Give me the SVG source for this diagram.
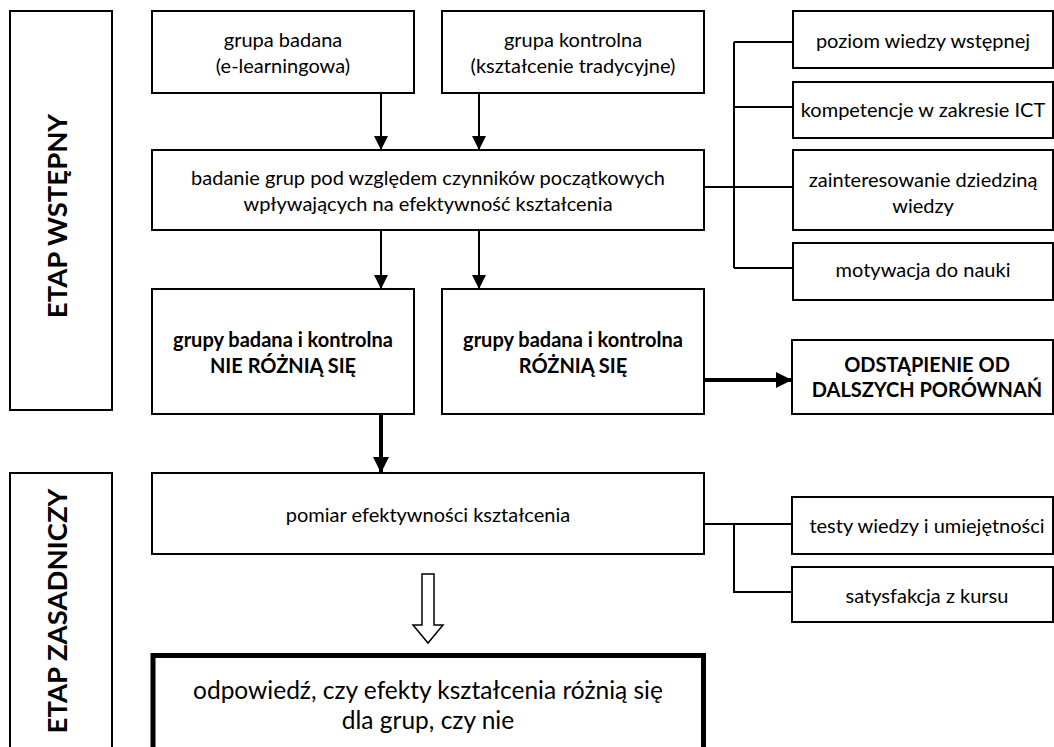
<svg xmlns="http://www.w3.org/2000/svg" width="1054" height="747" viewBox="0 0 1054 747">
<defs>
<style>
.box{fill:#fff;stroke:#000;stroke-width:2}
.t{font-family:Lato,"Open Sans","DejaVu Sans",sans-serif;font-size:20px;fill:#000;text-anchor:middle}
.b{font-weight:bold}
.big{font-size:24.5px}
.stage{font-family:Lato,"Open Sans","DejaVu Sans",sans-serif;font-size:27.5px;font-weight:bold;fill:#000;text-anchor:middle}
.ln{fill:none;stroke:#000;stroke-width:2}
.thick{fill:none;stroke:#000;stroke-width:4}
</style>
<marker id="ah" markerUnits="userSpaceOnUse" markerWidth="14" markerHeight="14" refX="14" refY="7" orient="auto"><path d="M0,0 L14,7 L0,14 z" fill="#000"/></marker>
<marker id="ahb" markerUnits="userSpaceOnUse" markerWidth="16" markerHeight="16" refX="16" refY="8" orient="auto"><path d="M0,0 L16,8 L0,16 z" fill="#000"/></marker>
</defs>
<rect width="1054" height="747" fill="#fff"/>
<g id="stage1"><rect class="box" x="10" y="11" width="102" height="399"/><text class="stage" transform="translate(67,216) rotate(-90)">ETAP WSTĘPNY</text></g>
<g id="stage2"><rect class="box" x="10" y="473" width="102" height="300"/><text class="stage" transform="translate(67,611) rotate(-90)">ETAP ZASADNICZY</text></g>
<g id="connectors">
<line class="ln" x1="381" y1="93" x2="381" y2="150" marker-end="url(#ah)"/>
<line class="ln" x1="479" y1="93" x2="479" y2="150" marker-end="url(#ah)"/>
<line class="ln" x1="381" y1="230" x2="381" y2="289" marker-end="url(#ah)"/>
<line class="ln" x1="479" y1="230" x2="479" y2="289" marker-end="url(#ah)"/>
<line class="thick" x1="381" y1="414" x2="381" y2="473" marker-end="url(#ahb)"/>
<line class="thick" x1="704" y1="380" x2="792" y2="380" marker-end="url(#ahb)"/>
<path class="ln" d="M704,187 H793 M734,42 V268 M734,42 H793 M734,107 H793 M734,268 H793"/>
<path class="ln" d="M704,524 H792 M734,524 V592 H792"/>
<polygon points="422,574 434,574 434,625 443,625 428,643 413,625 422,625" fill="#fff" stroke="#000" stroke-width="1.5"/>
</g>
<g id="grupa-badana"><rect class="box" x="152" y="11" width="262" height="82"/><text class="t" x="283" y="47">grupa badana</text><text class="t" x="283" y="73">(e-learningowa)</text></g>
<g id="grupa-kontrolna"><rect class="box" x="442" y="11" width="262" height="82"/><text class="t" x="573" y="47">grupa kontrolna</text><text class="t" x="573" y="73">(kształcenie tradycyjne)</text></g>
<g id="badanie"><rect class="box" x="152" y="150" width="552" height="80"/><text class="t" x="428" y="185">badanie grup pod względem czynników początkowych</text><text class="t" x="428" y="211">wpływających na efektywność kształcenia</text></g>
<g id="poziom"><rect class="box" x="793" y="11" width="260" height="57"/><text class="t" x="923" y="48">poziom wiedzy wstępnej</text></g>
<g id="kompetencje"><rect class="box" x="793" y="82" width="260" height="56"/><text class="t" x="923" y="117">kompetencje w zakresie ICT</text></g>
<g id="zainteresowanie"><rect class="box" x="793" y="150" width="260" height="80"/><text class="t" x="923" y="187">zainteresowanie dziedziną</text><text class="t" x="923" y="213">wiedzy</text></g>
<g id="motywacja"><rect class="box" x="793" y="243" width="260" height="57"/><text class="t" x="923" y="277">motywacja do nauki</text></g>
<g id="nie-roznia"><rect class="box" x="152" y="289" width="262" height="125"/><text class="t b" x="283" y="347">grupy badana i kontrolna</text><text class="t b" x="283" y="373">NIE RÓŻNIĄ SIĘ</text></g>
<g id="roznia"><rect class="box" x="442" y="289" width="262" height="125"/><text class="t b" x="573" y="347">grupy badana i kontrolna</text><text class="t b" x="573" y="373">RÓŻNIĄ SIĘ</text></g>
<g id="odstapienie"><rect class="box" x="792" y="340" width="261" height="74"/><text class="t b" x="927" y="372">ODSTĄPIENIE OD</text><text class="t b" x="927" y="397">DALSZYCH PORÓWNAŃ</text></g>
<g id="pomiar"><rect class="box" x="152" y="473" width="552" height="81"/><text class="t" x="428" y="522">pomiar efektywności kształcenia</text></g>
<g id="testy"><rect class="box" x="792" y="497" width="261" height="57"/><text class="t" x="927" y="533">testy wiedzy i umiejętności</text></g>
<g id="satysfakcja"><rect class="box" x="792" y="567" width="261" height="55"/><text class="t" x="927" y="603">satysfakcja z kursu</text></g>
<g id="odpowiedz"><rect x="153" y="655.5" width="550.5" height="120" fill="#fff" stroke="#000" stroke-width="5"/><text class="t big" x="428" y="699">odpowiedź, czy efekty kształcenia różnią się</text><text class="t big" x="428" y="729">dla grup, czy nie</text></g>
</svg>
